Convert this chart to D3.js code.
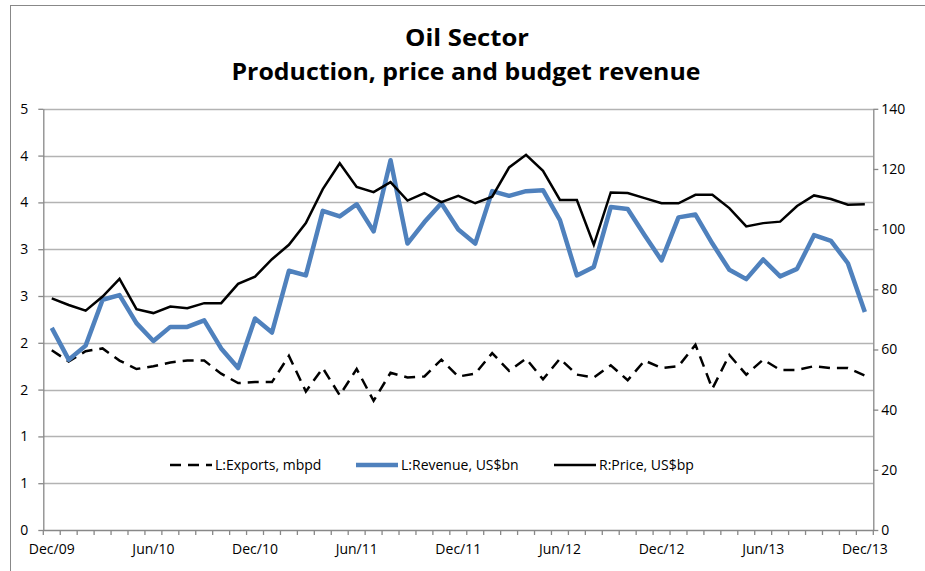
<!DOCTYPE html>
<html>
<head>
<meta charset="utf-8">
<script src="https://cdn.jsdelivr.net/npm/d3@7"></script>
<style>
  body { margin: 0; background: #fff; }
  svg { display: block; font-family: "Open Sans", sans-serif; }
</style>
</head>
<body>
<div id="chart"></div>
<script>
// monthly, Dec/09 .. Dec/13
const months = d3.timeMonths(new Date(2009, 11, 1), new Date(2014, 0, 1))
const monthFmt = d3.timeFormat('%b/%y')
const categories = months.map(m => monthFmt(m))

// L: exports, mbpd
const exportsMbpd = [1.92, 1.80, 1.91, 1.94, 1.81, 1.72, 1.75, 1.79, 1.81, 1.81, 1.67, 1.57,
  1.58, 1.58, 1.86, 1.48, 1.73, 1.44, 1.72, 1.38, 1.68, 1.63, 1.64, 1.82,
  1.64, 1.67, 1.89, 1.70, 1.83, 1.61, 1.83, 1.66, 1.63, 1.76, 1.60, 1.81,
  1.73, 1.75, 1.98, 1.51, 1.87, 1.66, 1.82, 1.71, 1.71, 1.75, 1.73, 1.73, 1.65]

// L: revenue, US$bn
const revenueBn = [2.16, 1.82, 1.97, 2.46, 2.51, 2.21, 2.02, 2.17, 2.17, 2.24, 1.94, 1.73,
  2.26, 2.11, 2.77, 2.72, 3.41, 3.35, 3.48, 3.19, 3.95, 3.06, 3.29, 3.49,
  3.21, 3.06, 3.62, 3.57, 3.62, 3.63, 3.31, 2.72, 2.81, 3.45, 3.43, 3.15,
  2.88, 3.34, 3.37, 3.06, 2.78, 2.68, 2.89, 2.71, 2.79, 3.15, 3.09, 2.85, 2.33]

// R: price, US$ per barrel
const priceUsd = [77.0, 74.8, 72.9, 77.6, 83.5, 73.4, 72.1, 74.3, 73.7, 75.4, 75.4, 81.8,
  84.2, 90.0, 94.8, 102.0, 113.3, 121.9, 114.0, 112.3, 115.6, 109.5, 112.0, 109.0,
  111.1, 108.6, 110.8, 120.5, 124.7, 119.4, 109.7, 109.7, 94.8, 112.2, 112.0, 110.3,
  108.6, 108.6, 111.4, 111.4, 107.0, 100.9, 102.0, 102.5, 107.7, 111.2, 110.0, 108.1, 108.3]

const leftTicks = [0, 0.5, 1, 1.5, 2, 2.5, 3, 3.5, 4, 4.5]
const rightTicks = [0, 20, 40, 60, 80, 100, 120, 140]
const xLabelMonths = ['Dec/09', 'Jun/10', 'Dec/10', 'Jun/11', 'Dec/11', 'Jun/12', 'Dec/12', 'Jun/13', 'Dec/13']

const width = 925, height = 571
const plot = { left: 43.3, right: 873.3, top: 108.8, bottom: 530 }

const svg = d3.select('#chart').append('svg')
    .attr('width', width)
    .attr('height', height)

// chart frame
svg.append('rect')
    .attr('x', 10.5).attr('y', 5.5)
    .attr('width', 940).attr('height', 600)
    .style('fill', 'none')
    .style('stroke', '#888')

const x = d3.scaleBand()
    .domain(categories)
    .range([plot.left, plot.right])
    .padding(0)
const xc = d => x(d) + x.bandwidth() / 2
const yL = d3.scaleLinear().domain([0, 4.5]).range([plot.bottom, plot.top])
const yR = d3.scaleLinear().domain([0, 140]).range([plot.bottom, plot.top])

// gridlines
svg.append('g')
    .selectAll('line')
    .data(leftTicks.slice(1))
    .enter()
    .append('line')
    .attr('x1', plot.left).attr('x2', plot.right)
    .attr('y1', d => Math.round(yL(d)) + 0.5)
    .attr('y2', d => Math.round(yL(d)) + 0.5)
    .style('stroke', '#b3b3b3')
    .style('stroke-width', 1.3)

// axes
const leftAxis = d3.axisLeft(yL)
    .tickValues(leftTicks)
    .tickFormat(d => Math.round(d))
    .tickSize(5)
    .tickPadding(10)
    .tickSizeOuter(0)
const rightAxis = d3.axisRight(yR)
    .tickValues(rightTicks)
    .tickSize(5)
    .tickPadding(3)
    .tickSizeOuter(0)
const bottomAxis = d3.axisBottom(x)
    .tickValues(xLabelMonths)
    .tickSize(0)
    .tickPadding(14)
    .tickSizeOuter(0)

function styleAxis(g) {
    g.select('.domain').style('stroke', '#888').style('stroke-width', 1.3)
    g.selectAll('.tick line').style('stroke', '#888').style('stroke-width', 1.3)
    g.selectAll('.tick text').style('font-size', '14px').style('fill', '#000')
        .style('font-family', '"Open Sans", sans-serif')
}

svg.append('g')
    .attr('transform', `translate(${plot.left},0)`)
    .call(leftAxis)
    .call(styleAxis)

svg.append('g')
    .attr('transform', `translate(${plot.right},0)`)
    .call(rightAxis)
    .call(styleAxis)

svg.append('g')
    .attr('transform', `translate(0,${plot.bottom})`)
    .call(bottomAxis)
    .call(styleAxis)

// month tick marks at category boundaries
const boundaries = categories.map(c => x(c)).concat([plot.right])
svg.append('g')
    .selectAll('line')
    .data(boundaries)
    .enter()
    .append('line')
    .attr('x1', d => d).attr('x2', d => d)
    .attr('y1', plot.bottom).attr('y2', plot.bottom + 5)
    .style('stroke', '#888')
    .style('stroke-width', 1.3)

// series
const lineL = d3.line()
    .x((d, i) => xc(categories[i]))
    .y(d => yL(d))
const lineR = d3.line()
    .x((d, i) => xc(categories[i]))
    .y(d => yR(d))

svg.append('path')
    .datum(exportsMbpd)
    .attr('d', lineL)
    .style('fill', 'none')
    .style('stroke', '#000')
    .style('stroke-width', 2.5)
    .style('stroke-dasharray', '11,7')

svg.append('path')
    .datum(revenueBn)
    .attr('d', lineL)
    .style('fill', 'none')
    .style('stroke', '#4f81bd')
    .style('stroke-width', 4.5)
    .style('stroke-linejoin', 'round')

svg.append('path')
    .datum(priceUsd)
    .attr('d', lineR)
    .style('fill', 'none')
    .style('stroke', '#000')
    .style('stroke-width', 2.5)

// title
const title = svg.append('g')
    .style('font-weight', 'bold')
    .style('font-size', '23px')
    .attr('text-anchor', 'middle')
title.append('text')
    .attr('x', 467).attr('y', 46)
    .attr('textLength', 124)
    .attr('lengthAdjust', 'spacingAndGlyphs')
    .text('Oil Sector')
title.append('text')
    .attr('x', 466).attr('y', 80)
    .attr('textLength', 469)
    .attr('lengthAdjust', 'spacingAndGlyphs')
    .text('Production, price and budget revenue')

// legend
const legendItems = [
    { label: 'L:Exports, mbpd', x: 170, color: '#000', w: 2.5, dash: '11,7' },
    { label: 'L:Revenue, US$bn', x: 356, color: '#4f81bd', w: 4.5, dash: null },
    { label: 'R:Price, US$bp', x: 554, color: '#000', w: 2.5, dash: null }
]
const legend = svg.append('g')
    .selectAll('g')
    .data(legendItems)
    .enter()
    .append('g')
    .attr('transform', d => `translate(${d.x},465)`)
legend.append('line')
    .attr('x1', 0).attr('x2', 42)
    .style('stroke', d => d.color)
    .style('stroke-width', d => d.w)
    .style('stroke-dasharray', d => d.dash)
legend.append('text')
    .attr('x', 45)
    .attr('dy', '0.35em')
    .style('font-size', '14px')
    .text(d => d.label)
</script>
</body>
</html>
